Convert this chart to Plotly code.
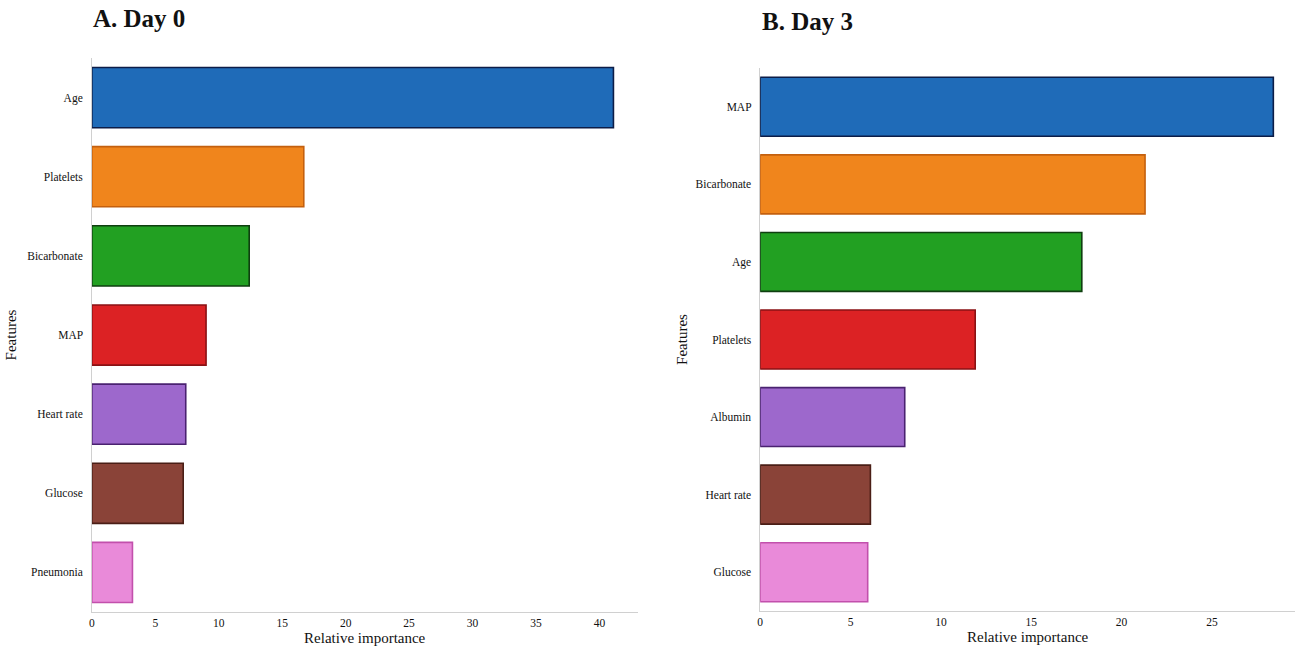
import plotly.graph_objects as go

# Day 0 feature importances
day0_features = ["Age", "Platelets", "Bicarbonate", "MAP", "Heart rate", "Glucose", "Pneumonia"]
day0_values = [41.1, 16.7, 12.4, 9.0, 7.4, 7.2, 3.2]

# Day 3 feature importances
day3_features = ["MAP", "Bicarbonate", "Age", "Platelets", "Albumin", "Heart rate", "Glucose"]
day3_values = [28.4, 21.3, 17.8, 11.9, 8.0, 6.1, 5.95]

fill_colors = ["#1f6bb8", "#f0851c", "#22a022", "#dc2224", "#9d68cc", "#8a4338", "#e98ad9"]
edge_colors = ["#0c1d48", "#c4600e", "#0f3f10", "#8a1214", "#4a2270", "#4a1e16", "#c250ac"]

FONT = "Liberation Serif"

fig = go.Figure()
fig.add_trace(go.Bar(
    x=day0_values, y=day0_features, orientation="h",
    marker=dict(color=fill_colors, line=dict(color=edge_colors, width=1.6)),
    xaxis="x", yaxis="y", showlegend=False,
))
fig.add_trace(go.Bar(
    x=day3_values, y=day3_features, orientation="h",
    marker=dict(color=fill_colors, line=dict(color=edge_colors, width=1.6)),
    xaxis="x2", yaxis="y2", showlegend=False,
))

axis_common = dict(
    showgrid=False, zeroline=False, showline=True, linecolor="#d0d0d0", linewidth=1,
    ticks="", tickfont=dict(family=FONT, size=11.5, color="#111"),
)

fig.update_layout(
    width=1298, height=652,
    margin=dict(l=0, r=0, t=0, b=0),
    paper_bgcolor="white", plot_bgcolor="white",
    bargap=0.24,
    font=dict(family=FONT, color="#111"),
    xaxis=dict(domain=[0.0686, 0.4900], range=[0, 43], anchor="y",
               tickvals=[0, 5, 10, 15, 20, 25, 30, 35, 40],
               title=dict(text="Relative importance", font=dict(family=FONT, size=15), standoff=4),
               **axis_common),
    yaxis=dict(domain=[0.0613, 0.911], range=[6.5, -0.5], anchor="x",
               categoryorder="array", categoryarray=day0_features,
               title=dict(text="Features", font=dict(family=FONT, size=15), standoff=6),
               ticksuffix="  ", **axis_common),
    xaxis2=dict(domain=[0.5847, 0.9977], range=[0, 29.6], anchor="y2",
                tickvals=[0, 5, 10, 15, 20, 25],
                title=dict(text="Relative importance", font=dict(family=FONT, size=15), standoff=4),
                **axis_common),
    yaxis2=dict(domain=[0.0629, 0.8957], range=[6.5, -0.5], anchor="x2",
                categoryorder="array", categoryarray=day3_features,
                title=dict(text="Features", font=dict(family=FONT, size=15), standoff=4),
                ticksuffix="  ", **axis_common),
    annotations=[
        dict(text="<b>A. Day 0</b>", x=88 / 1298, y=1 - 19 / 652, xref="paper", yref="paper",
             xanchor="left", yanchor="middle", showarrow=False,
             font=dict(family=FONT, size=25, color="#111")),
        dict(text="<b>B. Day 3</b>", x=759 / 1298, y=1 - 21 / 652, xref="paper", yref="paper",
             xanchor="left", yanchor="middle", showarrow=False,
             font=dict(family=FONT, size=25, color="#111")),
    ],
)

fig.write_html("out.html")
